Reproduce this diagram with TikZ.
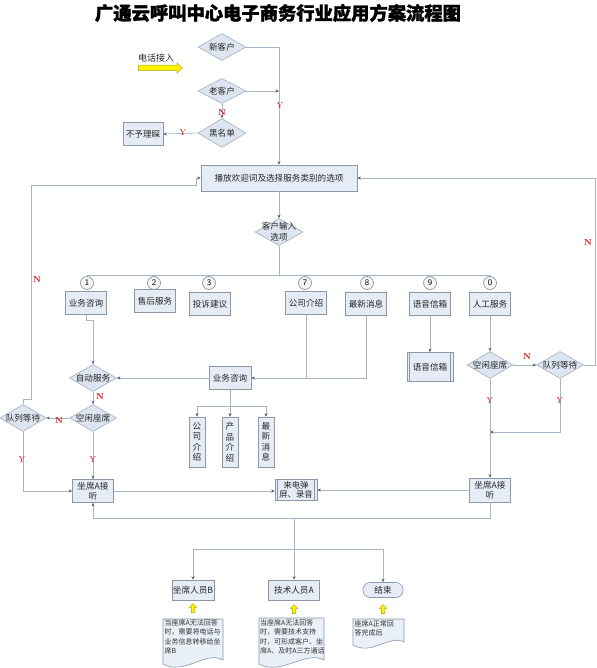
\documentclass[tikz,border=0pt]{standalone}
\usepackage{fontspec}
\newfontfamily\cjk{Noto Sans CJK SC}
\newfontfamily\cjktitle[FakeBold=1.6]{Noto Sans CJK SC}
\usetikzlibrary{shapes.geometric,shapes.arrows,arrows.meta,calc}
\definecolor{boxfill}{HTML}{E6ECF5}
\definecolor{boxline}{HTML}{8C98A8}
\definecolor{diafill}{HTML}{DDE5F0}
\definecolor{dialine}{HTML}{A4B0C0}
\definecolor{linecol}{HTML}{A6B4C8}
\definecolor{lblred}{HTML}{E00000}
\definecolor{docfill}{HTML}{EAF0F8}
\definecolor{arrolive}{HTML}{A0A020}
\begin{document}
\begin{tikzpicture}[x=1pt,y=-1pt,
 txt/.style={font=\cjk\fontsize{8.6}{10}\selectfont, text=black!85},
 box/.style={txt, draw=boxline, fill=boxfill, minimum width=41, minimum height=23, inner sep=1pt, align=center, line width=0.6pt},
 pproc/.style={box, path picture={
   \draw[boxline,line width=0.5pt] ([xshift=2.5pt]path picture bounding box.north west) -- ([xshift=2.5pt]path picture bounding box.south west);
   \draw[boxline,line width=0.5pt] ([xshift=-2.5pt]path picture bounding box.north east) -- ([xshift=-2.5pt]path picture bounding box.south east);}},
 dia/.style={diamond, draw=dialine, fill=diafill, minimum width=47, minimum height=27, inner sep=0pt, line width=0.6pt},
 vbox/.style={box, minimum width=16, minimum height=50, inner sep=0.5pt, font=\cjk\fontsize{8.6}{10.5}\selectfont},
 num/.style={circle, draw=boxline, fill=gray!8, minimum size=13, inner sep=0pt, line width=0.7pt, font=\sffamily\fontsize{8.5}{8.5}\selectfont},
 conn/.style={draw=linecol, line width=0.7pt},
 arr/.style={-{Stealth[length=3.5pt,width=3pt,color=black!65]}},
 lbl/.style={font=\rmfamily\fontsize{8.5}{8.5}\selectfont, text=lblred, inner sep=0.5pt},
 lbn/.style={lbl, font=\rmfamily\bfseries\fontsize{8.5}{8.5}\selectfont},
 docst/.style={draw=boxline, fill=docfill, line width=0.6pt},
 doctxt/.style={font=\cjk\fontsize{7}{9.3}\selectfont, align=left, inner sep=0pt, text=black!80},
 yarrow/.style={single arrow, draw=arrolive, fill=yellow, line width=0.5pt, inner sep=1.5pt, single arrow head extend=2pt, minimum height=9, shape border rotate=90}
]
\useasboundingbox (0,0) rectangle (596,668);
\fill[white] (0,0) rectangle (596,668);

% title
\node[font=\cjktitle\bfseries\fontsize{18.3}{18.3}\selectfont] (title) at (278,13) {广通云呼叫中心电子商务行业应用方案流程图};

% phone in
\node[txt, font=\cjk\fontsize{9}{10}\selectfont] (phone) at (156,58) {电话接入};
\node[single arrow, draw=arrolive, fill=yellow, line width=0.5pt, inner sep=2.5pt, single arrow head extend=2.5pt, minimum height=44] (yarr) at (159,68) {};

% top decisions
\node[dia, minimum width=48] (new) at (222,47) {};
\node[txt] (newt) at (new) {新客户};
\node[dia, minimum width=48, minimum height=25] (old) at (222,91) {};
\node[txt] (oldt) at (old) {老客户};
\node[dia, minimum width=48, minimum height=29] (black) at (222,133) {};
\node[txt] (blackt) at (black) {黑名单};
\node[box, minimum width=40] (ignore) at (143,134) {不予理睬};

\node[box, minimum width=156, minimum height=26] (play) at (279,178) {播放欢迎词及选择服务类别的选项};
\node[dia, minimum width=48, minimum height=27] (input) at (279,232) {};
\node[txt, align=center, font=\cjk\fontsize{8.6}{10.5}\selectfont] (inputt) at (279,231.5) {客户输入\\选项};

% option row
\node[num] (c1) at (87,283) {1};
\node[num] (c2) at (154,283) {2};
\node[num] (c3) at (209,283) {3};
\node[num] (c7) at (305,283) {7};
\node[num] (c8) at (367,283) {8};
\node[num] (c9) at (430,283) {9};
\node[num] (c0) at (490,283) {0};
\node[box] (b1) at (86,303) {业务咨询};
\node[box] (b2) at (155,301) {售后服务};
\node[box] (b3) at (210,304) {投诉建议};
\node[box] (b7) at (306,303) {公司介绍};
\node[box] (b8) at (366,304) {最新消息};
\node[box] (b9) at (430,304) {语音信箱};
\node[box] (b0) at (490,304) {人工服务};

% left branch
\node[dia] (auto) at (93,378) {};
\node[txt] (autot) at (auto) {自动服务};
\node[dia] (idleL) at (93,418) {};
\node[txt] (idleLt) at (idleL) {空闲座席};
\node[dia, minimum width=46] (queueL) at (23,418) {};
\node[txt] (queueLt) at (queueL) {队列等待};
\node[box, minimum height=23] (agentL) at (93,491) {坐席A接\\听};

% consult
\node[box, minimum width=42] (consult) at (230,378) {业务咨询};
\node[vbox] (v1) at (197,442) {公\\司\\介\\绍};
\node[vbox] (v2) at (230,442) {产\\品\\介\\绍};
\node[vbox] (v3) at (266,442) {最\\新\\消\\息};

% voice mail / manual
\node[pproc, minimum width=46, minimum height=29] (voice) at (430,367) {语音信箱};
\node[dia, minimum width=46] (idleR) at (490,365) {};
\node[txt] (idleRt) at (idleR) {空闲座席};
\node[dia] (queueR) at (560,365) {};
\node[txt] (queueRt) at (queueR) {队列等待};
\node[box, minimum height=24] (agentR) at (490,490) {坐席A接\\听};
\node[pproc, minimum width=42, minimum height=21, inner sep=0pt, font=\cjk\fontsize{8.3}{9}\selectfont] (call) at (296,490) {来电弹\\屏、录音};

% bottom
\node[box, minimum width=42, minimum height=20] (agentB) at (193,590) {坐席人员B};
\node[box, minimum width=51, minimum height=20] (tech) at (294,590) {技术人员A};
\node[box, minimum width=40, minimum height=15, rounded corners=7pt] (finish) at (383,590) {结束};

\node[yarrow] (ya1) at (193,609) {};
\node[yarrow] (ya2) at (294,610) {};
\node[yarrow] (ya3) at (383,610) {};

% documents
\draw[docst] (163,619) -- (223,619) -- (223,660) .. controls (205,650) and (185,676) .. (163,664) -- cycle;
\draw[docst] (259,618) -- (324,618) -- (324,660) .. controls (305,650) and (282,676) .. (259,664) -- cycle;
\draw[docst] (353,619) -- (404,619) -- (404,642) .. controls (390,634) and (372,656) .. (353,645) -- cycle;
\node[doctxt, anchor=north west] (dB) at (164.5,619.5) {当座席A无法回答\\时，需要将电话与\\业务信息转移给坐\\席B};
\node[doctxt, anchor=north west] (dT) at (260,619.5) {当座席A无法回答\\时，需要技术支持\\时，可形成客户、坐\\席A、及时A三方通话};
\node[doctxt, anchor=north west] (dE) at (354.5,620) {座席A正常回\\答完成后};

% connectors top
\draw[conn,arr] (new.east) -| (play.north);
\draw[conn,arr] (old.east) -- (old.east -| play.north);
\draw[conn,arr] (old.south) -- (black.north);
\draw[conn,arr] (black.west) -- (ignore.east);
\draw[conn,arr] (play.south) -- (input.north);

% bus
\coordinate (busM) at (279,275);
\draw[conn] (input.south) -- (busM);
\draw[conn] (c1.north) -- (c1.north |- busM) -- (c0.north |- busM) -- (c0.north);
\foreach \c in {c2,c3,c7,c8,c9} \draw[conn] (\c.north |- busM) -- (\c.north);

% left branch connectors
\draw[conn,arr] (b1.south) -- (86,320) -- (93,320) -- (auto.north);
\draw[conn] (b8.south) |- (b7.south |- consult.east);
\draw[conn,arr] (b7.south) |- (consult.east);
\draw[conn,arr] (consult.west) -- (auto.east);
\coordinate (cj) at (230,406);
\draw[conn] (consult.south) -- (cj);
\draw[conn,arr] (cj) -| (v1.north);
\draw[conn,arr] (cj) -| (v3.north);
\draw[conn,arr] (cj) -- (v2.north);
\draw[conn,arr] (auto.south) -- (idleL.north);
\draw[conn,arr] (idleL.west) -- (queueL.east);
\draw[conn,arr] (idleL.south) -- (agentL.north);
\draw[conn,arr] (queueL.south) |- (agentL.west);
\draw[conn,arr] (queueL.north) -- (23,399) -- (31,399) -- (31,185) -- (196,185) |- (play.west);

% right branch connectors
\draw[conn,arr] (b9.south) -- (voice.north);
\draw[conn,arr] (b0.south) -- (idleR.north);
\draw[conn,arr] (idleR.east) -- (queueR.west);
\draw[conn,arr] (queueR.east) -- (595,365) |- (play.east);
\draw[conn,arr] (idleR.south) -- (agentR.north);
\coordinate (rj) at (490,432);
\draw[conn,arr] (queueR.south) |- (rj);

% agents
\draw[conn,arr] (agentL.east) -- (agentL.east -| call.west);
\draw[conn,arr] (agentR.west) -- (agentR.west -| call.east);
\draw[conn,arr] (agentR.south) -- (490,518) -- (93,518) -- (agentL.south);
\coordinate (bj) at (294,549);
\draw[conn] (294,518) -- (bj);
\draw[conn] (agentB.north |- bj) -- (finish.north |- bj);
\draw[conn,arr] (agentB.north |- bj) -- (agentB.north);
\draw[conn,arr] (bj) -- (tech.north);
\draw[conn,arr] (finish.north |- bj) -- (finish.north);

% red labels
\node[lbn] at (222,113) {N};
\node[lbl] at (183,133) {Y};
\node[lbl] at (280,106) {Y};
\node[lbn] at (37,280) {N};
\node[lbn] at (588,243) {N};
\node[lbn] at (100,397) {N};
\node[lbn] at (59,421) {N};
\node[lbl] at (22,460) {Y};
\node[lbl] at (93,460) {Y};
\node[lbn] at (527,357) {N};
\node[lbl] at (490,401) {Y};
\node[lbl] at (560,401) {Y};
\end{tikzpicture}
\end{document}
